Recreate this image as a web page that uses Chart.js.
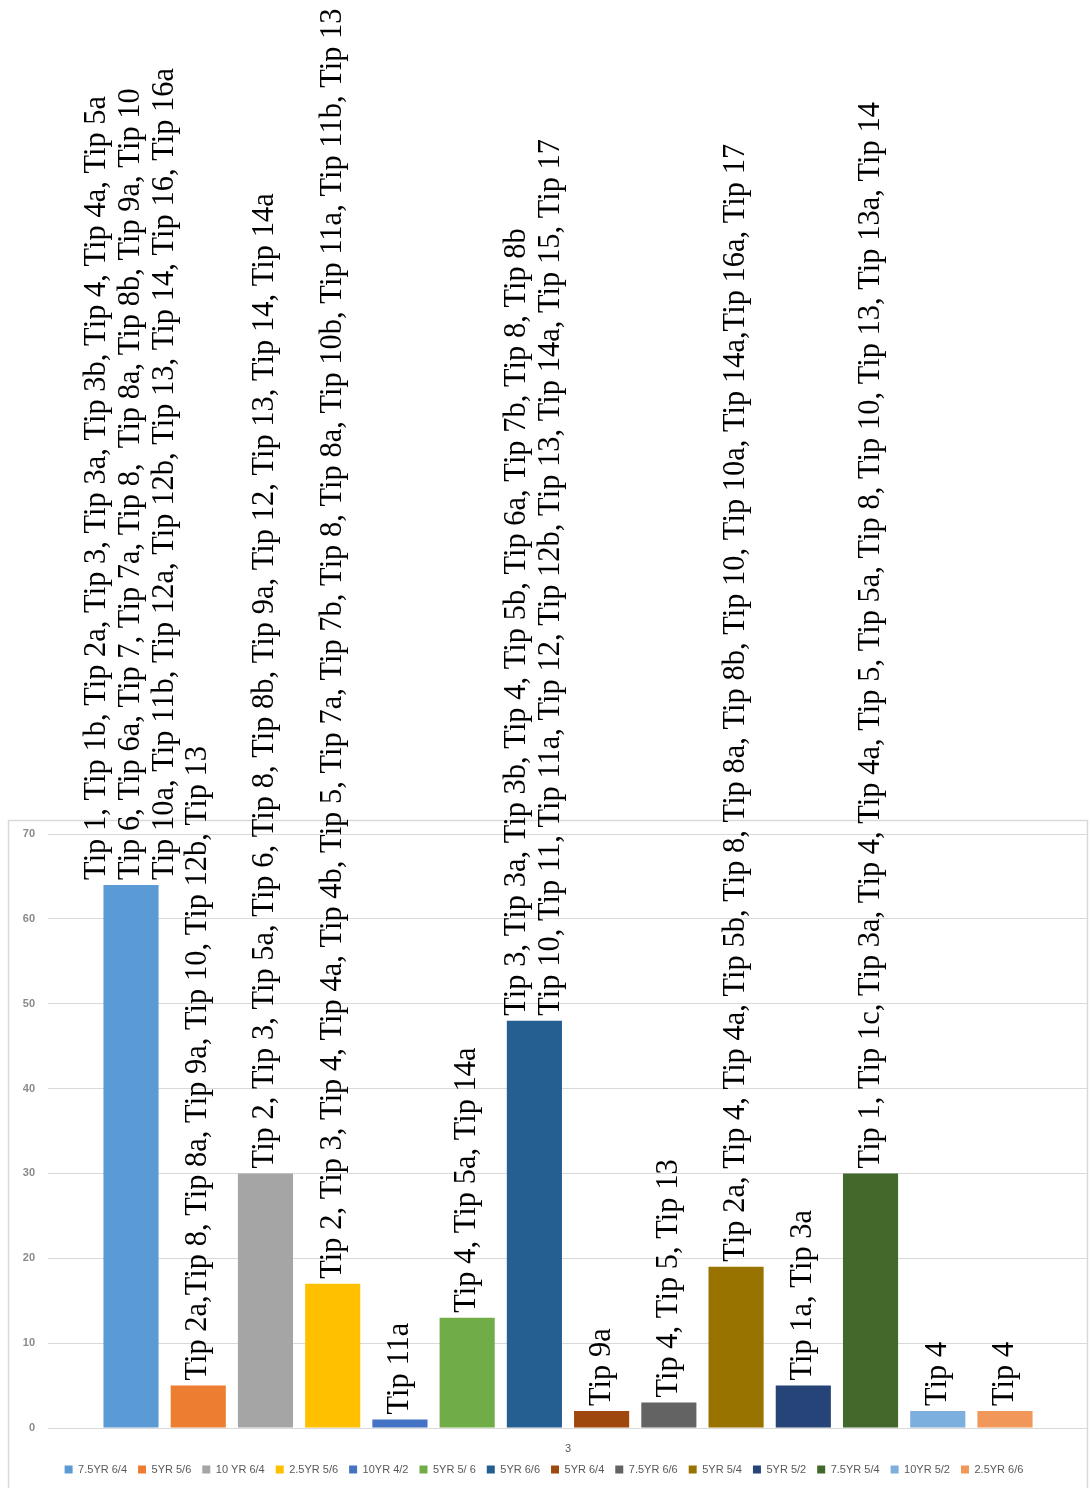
<!DOCTYPE html>
<html>
<head>
<meta charset="utf-8">
<script src="https://cdn.jsdelivr.net/npm/chart.js@4"></script>
<style>
    html, body { margin: 0; padding: 0; background: #fff; }
    #wrap { width: 1090px; height: 1488px; position: relative; }
</style>
</head>
<body>
<div id="wrap"><canvas id="grafico"></canvas></div>
<script>
// datos
const categorias = ['3'];
const series = ['7.5YR 6/4', '5YR 5/6', '10 YR 6/4', '2.5YR 5/6', '10YR 4/2', '5YR 5/ 6', '5YR 6/6',
    '5YR 6/4', '7.5YR 6/6', '5YR 5/4', '5YR 5/2', '7.5YR 5/4', '10YR 5/2', '2.5YR 6/6'];
const valores = [64, 5, 30, 17, 1, 13, 48, 2, 3, 19, 5, 30, 2, 2];
const etiquetas = [
    ['Tip 1, Tip 1b, Tip 2a, Tip 3, Tip 3a, Tip 3b, Tip 4, Tip 4a, Tip 5a',
     'Tip 6, Tip 6a, Tip 7, Tip 7a, Tip 8,  Tip 8a, Tip 8b, Tip 9a, Tip 10',
     'Tip 10a, Tip 11b, Tip 12a, Tip 12b, Tip 13, Tip 14, Tip 16, Tip 16a'],
    ['Tip 2a,Tip 8, Tip 8a, Tip 9a, Tip 10, Tip 12b, Tip 13'],
    ['Tip 2, Tip 3, Tip 5a, Tip 6, Tip 8, Tip 8b, Tip 9a, Tip 12, Tip 13, Tip 14, Tip 14a'],
    ['Tip 2, Tip 3, Tip 4, Tip 4a, Tip 4b, Tip 5, Tip 7a, Tip 7b, Tip 8, Tip 8a, Tip 10b, Tip 11a, Tip 11b, Tip 13'],
    ['Tip 11a'],
    ['Tip 4, Tip 5a, Tip 14a'],
    ['Tip 3, Tip 3a, Tip 3b, Tip 4, Tip 5b, Tip 6a, Tip 7b, Tip 8, Tip 8b',
     'Tip 10, Tip 11, Tip 11a, Tip 12, Tip 12b, Tip 13, Tip 14a, Tip 15, Tip 17'],
    ['Tip 9a'],
    ['Tip 4, Tip 5, Tip 13'],
    ['Tip 2a, Tip 4, Tip 4a, Tip 5b, Tip 8, Tip 8a, Tip 8b, Tip 10, Tip 10a, Tip 14a,Tip 16a, Tip 17'],
    ['Tip 1a, Tip 3a'],
    ['Tip 1, Tip 1c, Tip 3a, Tip 4, Tip 4a, Tip 5, Tip 5a, Tip 8, Tip 10, Tip 13, Tip 13a, Tip 14'],
    ['Tip 4'],
    ['Tip 4']
];
const ticksY = [0, 10, 20, 30, 40, 50, 60, 70];

// colores (paleta Office)
const colores = ['#5B9BD5', '#ED7D31', '#A5A5A5', '#FFC000', '#4472C4', '#70AD47', '#255E91',
    '#9E480E', '#636363', '#997300', '#264478', '#43682B', '#7CAFDD', '#F1975A'];

// marco del area del grafico (como en Excel)
const marco = {
    id: 'marco',
    beforeDraw(chart) {
        const ctx = chart.ctx;
        ctx.save();
        ctx.strokeStyle = '#d9d9d9';
        ctx.lineWidth = 1.5;
        ctx.strokeRect(8.5, 820.5, 1079, 680);
        ctx.restore();
    }
};

// etiquetas verticales encima de cada barra
const textoBarras = {
    id: 'textoBarras',
    afterDatasetsDraw(chart) {
        const ctx = chart.ctx;
        ctx.save();
        ctx.font = '30.5px "Liberation Serif", "Times New Roman", serif';
        ctx.fillStyle = '#000';
        ctx.textAlign = 'left';
        ctx.textBaseline = 'middle';
        chart.data.datasets.forEach((ds, i) => {
            const bar = chart.getDatasetMeta(i).data[0];
            const lineas = etiquetas[i];
            const lh = 34;
            ctx.save();
            ctx.translate(bar.x, bar.y - 5);
            ctx.rotate(-Math.PI / 2);
            lineas.forEach((l, k) => {
                ctx.fillText(l, 0, (k - (lineas.length - 1) / 2) * lh);
            });
            ctx.restore();
        });
        ctx.restore();
    }
};

const canvas = document.getElementById('grafico');
new Chart(canvas.getContext('2d'), {
    type: 'bar',
    data: {
        labels: categorias,
        datasets: series.map((s, i) => ({
            label: s,
            data: [valores[i]],
            backgroundColor: colores[i],
            borderWidth: 0
        }))
    },
    options: {
        responsive: true,
        maintainAspectRatio: false,
        animation: false,
        categoryPercentage: 0.905,
        barPercentage: 0.82,
        layout: { padding: { top: 834, right: 2, left: 0, bottom: 3 } },
        plugins: {
            tooltip: { enabled: false },
            legend: {
                position: 'bottom',
                labels: {
                    boxWidth: 8,
                    boxHeight: 8,
                    padding: 11,
                    color: '#595959',
                    font: { family: '"Liberation Sans", Arial, sans-serif', size: 11 }
                }
            }
        },
        scales: {
            x: {
                grid: { display: false },
                border: { display: false },
                ticks: { color: '#595959', padding: 6, maxRotation: 0, font: { family: '"Liberation Sans", Arial, sans-serif', size: 11 } },
                afterFit: s => { s.height = 25; }
            },
            y: {
                min: 0,
                max: 70,
                afterBuildTicks: s => { s.ticks = ticksY.map(v => ({ value: v })); },
                grid: { color: '#d9d9d9', drawTicks: false },
                border: { display: false },
                ticks: {
                    padding: 13,
                    color: '#8a8a8a',
                    font: { family: '"Liberation Sans", Arial, sans-serif', size: 11, weight: 'bold' }
                },
                afterFit: s => { s.width = 48; }
            }
        }
    },
    plugins: [marco, textoBarras]
});
</script>
</body>
</html>
